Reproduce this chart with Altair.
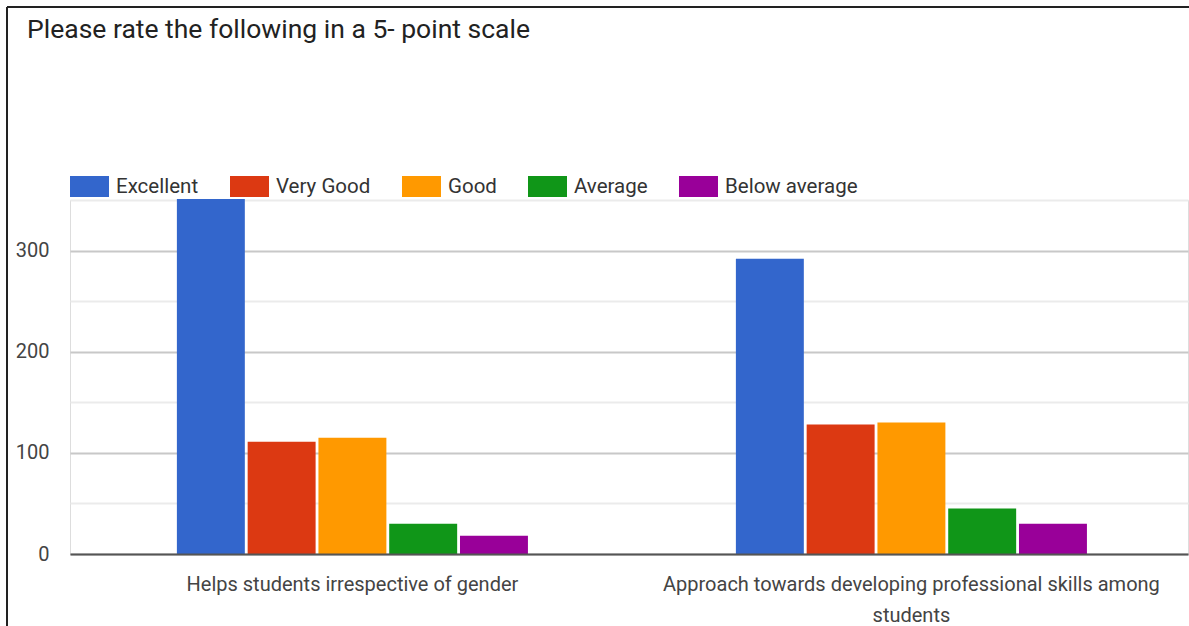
import altair as alt
import pandas as pd

# Data
questions = [
    "Helps students irrespective of gender",
    "Approach towards developing professional skills among students",
]
ratings = ["Excellent", "Very Good", "Good", "Average", "Below average"]
colors = ["#3366CC", "#DC3912", "#FF9900", "#109618", "#990099"]
values_q1 = [351, 111, 115, 30, 18]
values_q2 = [292, 128, 130, 45, 30]

rows = []
for q, vals in zip(questions, [values_q1, values_q2]):
    for r, v in zip(ratings, vals):
        rows.append({"question": q, "rating": r, "count": v})
df = pd.DataFrame(rows)

FONT = "Roboto"

label_expr = (
    "datum.value == '" + questions[1] + "' ? "
    "['Approach towards developing professional skills among', 'students'] : datum.label"
)

bars = alt.Chart(df).mark_bar().encode(
    x=alt.X(
        "question:N",
        sort=questions,
        title=None,
        scale=alt.Scale(paddingInner=0.372, paddingOuter=0.186, align=0.514),
        axis=alt.Axis(
            labelAngle=0,
            labelFont=FONT,
            labelFontSize=20,
            labelColor="#444444",
            labelPadding=20,
            labelLineHeight=31,
            labelExpr=label_expr,
            labelLimit=0,
            ticks=False,
            domainColor="#555555",
            domainWidth=2,
            grid=False,
            zindex=1,
        ),
    ),
    xOffset=alt.XOffset(
        "rating:N",
        sort=ratings,
        scale=alt.Scale(paddingInner=0.04, paddingOuter=0),
    ),
    y=alt.Y(
        "count:Q",
        title=None,
        scale=alt.Scale(domain=[0, 350], nice=False),
        axis=alt.Axis(
            values=[0, 50, 100, 150, 200, 250, 300, 350],
            labelExpr="datum.value % 100 == 0 ? datum.label : ''",
            labelFont=FONT,
            labelFontSize=20,
            labelColor="#444444",
            labelPadding=21,
            domain=False,
            ticks=False,
            gridColor={
                "condition": {"test": "datum.value % 100 == 0", "value": "#c8c8c8"},
                "value": "#ebebeb",
            },
            gridWidth=2,
        ),
    ),
    color=alt.Color(
        "rating:N",
        sort=ratings,
        scale=alt.Scale(domain=ratings, range=colors),
        legend=alt.Legend(
            title=None,
            orient="none",
            legendX=0,
            legendY=-24,
            direction="horizontal",
            symbolType="M-1,-1H2.714V1H-1Z",
            symbolSize=441,
            symbolStrokeWidth=0,
            symbolOpacity=1,
            labelFont=FONT,
            labelFontSize=20.5,
            labelColor="#333333",
            labelOffset=25,
            columnPadding=31,
            padding=0,
            labelLimit=0,
        ),
    ),
)

frame_df = pd.DataFrame({"k": [0]})
left_border = alt.Chart(frame_df).mark_rule(color="#222222", strokeWidth=2).encode(
    x=alt.value(-63), y=alt.value(-193), y2=alt.value(426)
)
top_border = alt.Chart(frame_df).mark_rule(color="#222222", strokeWidth=2).encode(
    y=alt.value(-193), x=alt.value(-63), x2=alt.value(1119)
)

chart = alt.layer(bars, left_border, top_border).properties(
    width=1118,
    height=354,
    autosize=alt.AutoSizeParams(type="none"),
    padding={"left": 70, "top": 200, "right": 1, "bottom": 72},
    title=alt.Title(
        "Please rate the following in a 5- point scale",
        anchor="start",
        frame="group",
        font=FONT,
        fontSize=26.5,
        fontWeight="normal",
        color="#222222",
        baseline="alphabetic",
        dx=-43,
        dy=58,
        offset=0,
    ),
).configure_view(strokeWidth=0).configure(background="white")

chart.save("out.html", embed_options={"renderer": "svg", "actions": False})
